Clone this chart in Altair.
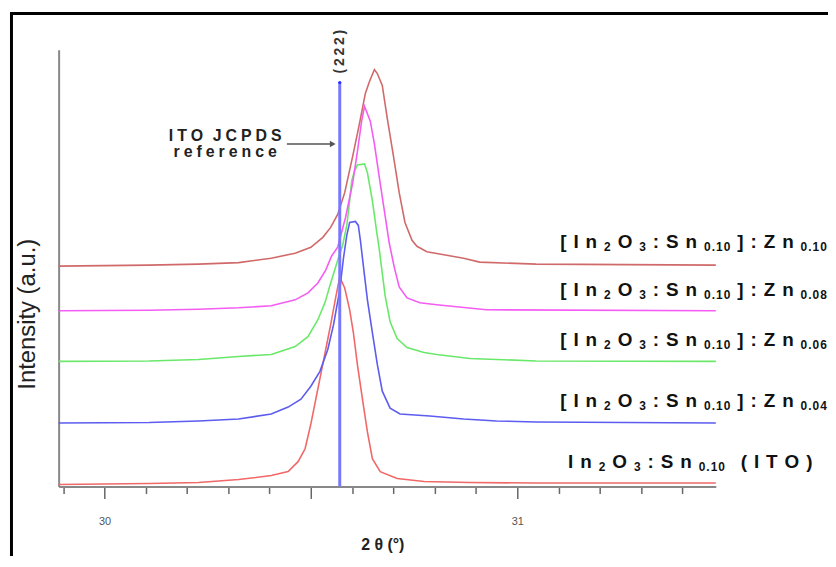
import altair as alt
import pandas as pd

# ---------------- data ----------------
X_DOMAIN = [29.889, 31.481]          # 2θ (degrees)
Y_DOMAIN = [0, 440]                  # intensity (a.u.)
W, H = 662, 440
PX_PER_DEG = W / (X_DOMAIN[1] - X_DOMAIN[0])

tick_values = [29.9, 30.0, 30.1, 30.2, 30.3, 30.4, 30.5, 30.6, 30.7, 30.8,
               30.9, 31.0, 31.1, 31.2, 31.3, 31.4]

series_names = ["ITO", "Zn0.04", "Zn0.06", "Zn0.08", "Zn0.10"]
series_colors = ["#f06868", "#5c5cf0", "#6ae86a", "#f45cf4", "#d06a6a"]

ito_tt = [29.889, 30.108, 30.228, 30.325, 30.404, 30.445, 30.469, 30.486, 30.500, 30.512,
          30.524, 30.536, 30.548, 30.560, 30.570, 30.582, 30.594, 30.603, 30.613, 30.625,
          30.637, 30.649, 30.668, 30.709, 30.774, 30.885, 31.046, 31.481]
ito_i = [2, 3, 4, 7, 11, 15, 25, 38, 63, 88,
         113, 138, 163, 190, 211, 200, 178, 155, 122, 88,
         55, 28, 15, 8, 5, 4, 3.5, 3.5]

zn04_tt = [29.889, 30.108, 30.228, 30.325, 30.404, 30.445, 30.476, 30.500, 30.522, 30.541,
           30.555, 30.570, 30.579, 30.587, 30.594, 30.608, 30.615, 30.620, 30.627, 30.637,
           30.649, 30.661, 30.673, 30.692, 30.716, 30.788, 30.870, 30.950, 31.046, 31.481]
zn04_i = [64, 64.5, 66, 68, 73, 80, 88, 101, 116, 138,
          163, 198, 230, 253, 266, 267, 263, 248, 223, 188,
          155, 123, 96, 79, 73, 71, 68, 66, 65, 64]

zn06_tt = [29.889, 30.108, 30.228, 30.325, 30.404, 30.462, 30.493, 30.517, 30.534, 30.548,
           30.565, 30.577, 30.587, 30.594, 30.599, 30.606, 30.613, 30.630, 30.637, 30.649,
           30.659, 30.666, 30.673, 30.680, 30.692, 30.709, 30.733, 30.774, 30.805, 30.885,
           31.046, 31.481]
zn06_i = [126, 126.5, 128, 131, 133, 141, 151, 168, 185, 205,
          228, 243, 263, 288, 308, 318, 324, 325, 316, 288,
          258, 238, 215, 192, 166, 149, 140, 135, 133, 129,
          126.5, 126]

zn08_tt = [29.889, 30.108, 30.228, 30.325, 30.404, 30.462, 30.493, 30.517, 30.536, 30.550,
           30.565, 30.584, 30.601, 30.613, 30.623, 30.630, 30.644, 30.654, 30.666, 30.678,
           30.690, 30.702, 30.714, 30.733, 30.764, 30.805, 30.925, 31.481]
zn08_i = [177, 177.5, 178.5, 180, 182, 188, 195, 205, 218, 232,
          241, 271, 305, 338, 368, 383, 368, 345, 311, 278,
          245, 221, 201, 190, 185, 183, 178, 177]

zn10_tt = [29.889, 30.108, 30.228, 30.325, 30.404, 30.462, 30.500, 30.529, 30.548, 30.565,
           30.582, 30.601, 30.618, 30.632, 30.642, 30.654, 30.661, 30.673, 30.685, 30.700,
           30.714, 30.728, 30.745, 30.757, 30.781, 30.829, 30.870, 30.909, 31.046, 31.481]
zn10_i = [222, 223, 224, 225.5, 230, 235, 241, 251, 261, 274,
          296, 332, 366, 396, 408, 420, 416, 404, 371, 333,
          296, 266, 248, 242, 236.5, 233, 230, 226, 224, 223]

ref_tt = 30.57          # ITO JCPDS (222) reference position
ref_top = 407

# right-hand labels: Zn contents, anchors (2θ of left edge, baseline intensity)
label_zn = ["0.10", "0.08", "0.06", "0.04"]
label_x = [31.104, 31.104, 31.104, 31.104, 31.123]
label_y = [240, 191.5, 141.5, 80, 18.5]

ann_lines = ["ITO JCPDS", "reference"]
ann_x = 30.2925
ann_y = [348, 332]
arrow_x = [30.442, 30.553]
arrow_y = 345

# ---------------- text layout helpers ----------------
ARIAL_BOLD = {'[': 333, ']': 333, 'I': 278, 'n': 611, 'O': 778, ':': 333, 'S': 667,
              'Z': 611, '.': 278, ' ': 100, '(': 333, ')': 333, 'T': 611, 'J': 556,
              'C': 722, 'P': 667, 'D': 722, 'r': 389, 'e': 556, 'f': 333, 'c': 556}


def layout(segments, x0, y, size_main, size_sub, g_main, g_sub, center=False):
    chars = [(c, sub) for text, sub in segments for c in text]
    offs, cur = [], 0.0
    for i, (c, sub) in enumerate(chars):
        offs.append(cur)
        cur += ARIAL_BOLD.get(c, 556) * (size_sub if sub else size_main) / 1000
        if i < len(chars) - 1:
            cur += g_sub if (sub and chars[i + 1][1]) else g_main
    start = x0 - (cur / 2) / PX_PER_DEG if center else x0
    out = []
    for (c, sub), o in zip(chars, offs):
        if c != ' ':
            out.append({"ch": c, "sub": sub, "tt": start + o / PX_PER_DEG, "I": y})
    return out


label_rows = []
for zn, x0, y0 in zip(label_zn, label_x[:4], label_y[:4]):
    segs = [("[In", 0), ("2", 1), ("O", 0), ("3", 1), (":Sn", 0), ("0.10", 1), ("]:Zn", 0), (zn, 1)]
    label_rows += layout(segs, x0, y0, 19, 12, 7.0, 1.0)
label_rows += layout([("In", 0), ("2", 1), ("O", 0), ("3", 1), (":Sn", 0), ("0.10", 1), (" (ITO)", 0)],
                     label_x[4], label_y[4], 19, 12, 7.0, 1.0)
labels = pd.DataFrame(label_rows)

ann_rows = []
for line, yy in zip(ann_lines, ann_y):
    ann_rows += layout([(line, 0)], ann_x, yy, 16, 16, 4.0, 4.0, center=True)
ann = pd.DataFrame(ann_rows)

rows = []
for name, tt, ii in zip(series_names, [ito_tt, zn04_tt, zn06_tt, zn08_tt, zn10_tt],
                        [ito_i, zn04_i, zn06_i, zn08_i, zn10_i]):
    for k, (t, v) in enumerate(zip(tt, ii)):
        rows.append({"series": name, "tt": t, "I": v, "k": k})
curves = pd.DataFrame(rows)

# ---------------- scales / axes ----------------
FONT = "Liberation Sans"
xs = alt.Scale(domain=X_DOMAIN, nice=False, zero=False)
ys = alt.Scale(domain=Y_DOMAIN, nice=False, zero=False)

xaxis = alt.Axis(
    values=tick_values, grid=False, title="2 θ (°)",
    tickSize={"condition": {"test": "abs(datum.value*2 - round(datum.value*2)) < 0.001", "value": 12},
              "value": 7},
    tickColor="#666", tickWidth=1.5, domainColor="#888", domainWidth=2,
    labelExpr="abs(datum.value - round(datum.value)) < 0.001 ? format(datum.value, 'd') : ''",
    labelFont=FONT, labelFontSize=11, labelColor="#555", labelPadding=17,
    titleFont=FONT, titleFontSize=16, titleFontWeight="bold", titleColor="#222",
    titleX=326, titleY=58, titleAlign="center", titleBaseline="middle",
)
yaxis = alt.Axis(
    ticks=False, labels=False, grid=False, domainColor="#888", domainWidth=2,
    title="Intensity (a.u.)", titleFont=FONT, titleFontSize=24, titleFontWeight="normal",
    titleColor="#222", titleAngle=270, titleX=-31.5, titleY=266,
    titleAlign="center", titleBaseline="middle",
)


def X(field="tt"):
    return alt.X(f"{field}:Q", scale=xs, axis=xaxis)


def Y(field="I"):
    return alt.Y(f"{field}:Q", scale=ys, axis=yaxis)


frame = alt.Chart(pd.DataFrame({"a": [0]})).mark_rect(
    filled=False, stroke="black", strokeWidth=3
).encode(x=alt.value(-47.5), x2=alt.value(800), y=alt.value(-36.5), y2=alt.value(620))

lines = alt.Chart(curves).mark_line(strokeWidth=1.6).encode(
    x=X(), y=Y(),
    color=alt.Color("series:N", scale=alt.Scale(domain=series_names, range=series_colors), legend=None),
    detail="series:N", order="k:Q",
)

ref_df = pd.DataFrame({"tt": [ref_tt], "I0": [0], "I1": [ref_top], "lab": ["(\u20092\u20092\u20092\u2009)"], "Iy": [438]})
ref_rule = alt.Chart(ref_df).mark_rule(color="#7878ff", strokeWidth=3).encode(
    x=X(), y=Y("I0"), y2="I1:Q")
ref_dot = alt.Chart(ref_df).mark_circle(color="#2a2aff", size=10, opacity=1).encode(x=X(), y=Y("I1"))
ref_text = alt.Chart(ref_df).mark_text(
    angle=270, font=FONT, fontSize=14, fontWeight="bold", color="#333", align="center", baseline="middle"
).encode(x=X(), y=Y("Iy"), text="lab:N")

arrow_df = pd.DataFrame({"x0": [arrow_x[0]], "x1": [arrow_x[1]], "I": [arrow_y]})
arrow = alt.Chart(arrow_df).mark_rule(color="#555", strokeWidth=1.5).encode(
    x=X("x0"), x2="x1:Q", y=Y())
head = alt.Chart(arrow_df).mark_point(shape="triangle-right", filled=True, color="#555", size=45, opacity=1).encode(
    x=X("x1"), y=Y())

ann_text = alt.Chart(ann).mark_text(
    font=FONT, fontSize=16, fontWeight="bold", color="#222", align="left", baseline="alphabetic"
).encode(x=X(), y=Y(), text="ch:N")

lab_main = alt.Chart(labels).transform_filter("datum.sub == 0").mark_text(
    font=FONT, fontSize=19, fontWeight="bold", color="#111", align="left", baseline="alphabetic"
).encode(x=X(), y=Y(), text="ch:N")
lab_sub = alt.Chart(labels).transform_filter("datum.sub == 1").mark_text(
    font=FONT, fontSize=12, fontWeight="bold", color="#111", align="left", baseline="alphabetic", dy=3
).encode(x=X(), y=Y(), text="ch:N")

chart = alt.layer(
    frame, lines, ref_rule, ref_dot, ref_text, arrow, head, ann_text, lab_main, lab_sub
).properties(
    width=W, height=H,
    autosize=alt.AutoSizeParams(type="none"),
    padding={"left": 51, "top": 40, "right": 113, "bottom": 68},
    background="white",
).configure_view(stroke=None)

chart.save("out.html", embed_options={"renderer": "svg", "actions": False})
